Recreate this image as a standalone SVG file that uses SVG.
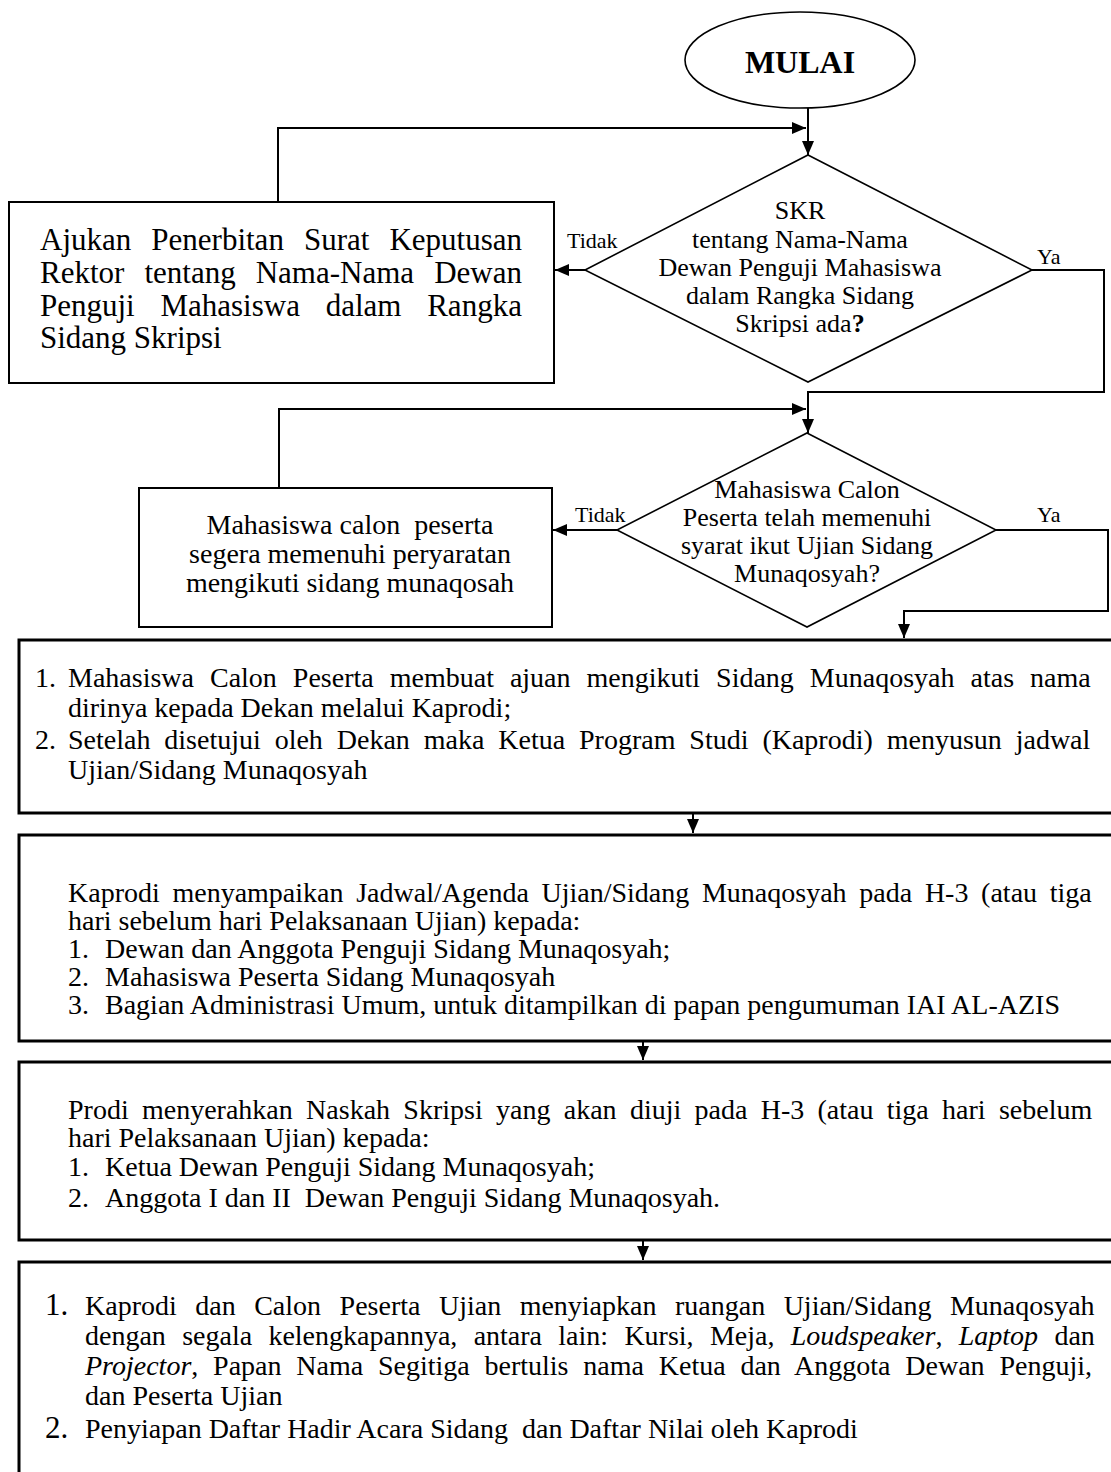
<svg xmlns="http://www.w3.org/2000/svg" width="1111" height="1472" viewBox="0 0 1111 1472" xml:space="preserve">
<style>
.t{font-family:"Liberation Serif","Times New Roman",serif;fill:#000;white-space:pre}
.f31{font-size:31px}
.f28{font-size:28px}
.f26{font-size:26px}
.f22{font-size:22px}
.c{text-anchor:middle}
.box{fill:#fff;stroke:#000;stroke-width:2}
.big{fill:#fff;stroke:#000;stroke-width:3}
.shape{fill:#fff;stroke:#000;stroke-width:1.6}
.conn{fill:none;stroke:#000;stroke-width:2}
</style>
<defs>
<marker id="ah" markerWidth="14" markerHeight="12" refX="14" refY="6" orient="auto" markerUnits="userSpaceOnUse"><path d="M0,0 L14,6 L0,12 z" fill="#000"/></marker>
</defs>
<rect width="1111" height="1472" fill="#fff"/>

<g id="mulai">
<ellipse class="shape" cx="800" cy="60" rx="115" ry="48"/>
<text class="t c" x="800" y="73" font-size="32" font-weight="bold">MULAI</text>
</g>

<g id="dec1">
<polygon class="shape" points="808,155 1032,270 808,382 585,270"/>
<text class="t f26 c" x="800" y="219">SKR</text>
<text class="t f26 c" x="800" y="248">tentang Nama-Nama</text>
<text class="t f26 c" x="800" y="276">Dewan Penguji Mahasiswa</text>
<text class="t f26 c" x="800" y="304">dalam Rangka Sidang</text>
<text class="t f26 c" x="800" y="332">Skripsi ada<tspan font-weight="bold">?</tspan></text>
</g>

<g id="ajukan">
<rect class="box" x="9" y="202" width="545" height="181"/>
<text class="t f31" x="40" y="250" style="word-spacing:12.3px">Ajukan Penerbitan Surat Keputusan</text>
<text class="t f31" x="40" y="283" style="word-spacing:12.3px">Rektor tentang Nama-Nama Dewan</text>
<text class="t f31" x="40" y="316" style="word-spacing:18px">Penguji Mahasiswa dalam Rangka</text>
<text class="t f31" x="40" y="348">Sidang Skripsi</text>
</g>

<g id="dec2">
<polygon class="shape" points="807,433 996,530 807,627 617,530"/>
<text class="t f26 c" x="807" y="498">Mahasiswa Calon</text>
<text class="t f26 c" x="807" y="526">Peserta telah memenuhi</text>
<text class="t f26 c" x="807" y="554">syarat ikut Ujian Sidang</text>
<text class="t f26 c" x="807" y="582">Munaqosyah?</text>
</g>

<g id="penuhi">
<rect class="box" x="139" y="488" width="413" height="139"/>
<text class="t f28 c" x="350" y="534">Mahasiswa calon  peserta</text>
<text class="t f28 c" x="350" y="563">segera memenuhi peryaratan</text>
<text class="t f28 c" x="350" y="592">mengikuti sidang munaqosah</text>
</g>

<g id="ajuan">
<rect class="big" x="19" y="640" width="1110" height="173"/>
<text class="t f28" x="35" y="687">1.</text>
<text class="t f28" x="68" y="687" style="word-spacing:9px">Mahasiswa Calon Peserta membuat ajuan mengikuti Sidang Munaqosyah atas nama</text>
<text class="t f28" x="68" y="717">dirinya kepada Dekan melalui Kaprodi;</text>
<text class="t f28" x="35" y="749">2.</text>
<text class="t f28" x="68" y="749" style="word-spacing:6.9px">Setelah disetujui oleh Dekan maka Ketua Program Studi (Kaprodi) menyusun jadwal</text>
<text class="t f28" x="68" y="779">Ujian/Sidang Munaqosyah</text>
</g>

<g id="jadwal">
<rect class="big" x="19" y="835" width="1110" height="206"/>
<text class="t f28" x="68" y="902" style="word-spacing:5.7px">Kaprodi menyampaikan Jadwal/Agenda Ujian/Sidang Munaqosyah pada H-3 (atau tiga</text>
<text class="t f28" x="68" y="930">hari sebelum hari Pelaksanaan Ujian) kepada:</text>
<text class="t f28" x="68" y="958">1.</text>
<text class="t f28" x="105" y="958">Dewan dan Anggota Penguji Sidang Munaqosyah;</text>
<text class="t f28" x="68" y="986">2.</text>
<text class="t f28" x="105" y="986">Mahasiswa Peserta Sidang Munaqosyah</text>
<text class="t f28" x="68" y="1014">3.</text>
<text class="t f28" x="105" y="1014">Bagian Administrasi Umum, untuk ditampilkan di papan pengumuman IAI AL-AZIS</text>
</g>

<g id="naskah">
<rect class="big" x="19" y="1062" width="1110" height="178"/>
<text class="t f28" x="68" y="1119" style="word-spacing:6.3px">Prodi menyerahkan Naskah Skripsi yang akan diuji pada H-3 (atau tiga hari sebelum</text>
<text class="t f28" x="68" y="1147">hari Pelaksanaan Ujian) kepada:</text>
<text class="t f28" x="68" y="1176">1.</text>
<text class="t f28" x="105" y="1176">Ketua Dewan Penguji Sidang Munaqosyah;</text>
<text class="t f28" x="68" y="1207">2.</text>
<text class="t f28" x="105" y="1207">Anggota I dan II  Dewan Penguji Sidang Munaqosyah.</text>
</g>

<g id="ruangan">
<rect class="big" x="19" y="1262" width="1110" height="240"/>
<text class="t" x="45" y="1315" font-size="31">1.</text>
<text class="t f28" x="85" y="1315" style="word-spacing:11.5px">Kaprodi dan Calon Peserta Ujian menyiapkan ruangan Ujian/Sidang Munaqosyah</text>
<text class="t f28" x="85" y="1345" style="word-spacing:9.3px">dengan segala kelengkapannya, antara lain: Kursi, Meja, <tspan font-style="italic">Loudspeaker</tspan>, <tspan font-style="italic">Laptop</tspan> dan</text>
<text class="t f28" x="85" y="1375" style="word-spacing:7.8px"><tspan font-style="italic">Projector</tspan>, Papan Nama Segitiga bertulis nama Ketua dan Anggota Dewan Penguji,</text>
<text class="t f28" x="85" y="1405">dan Peserta Ujian</text>
<text class="t" x="45" y="1438" font-size="31">2.</text>
<text class="t f28" x="85" y="1438">Penyiapan Daftar Hadir Acara Sidang  dan Daftar Nilai oleh Kaprodi</text>
</g>

<g id="connectors">
<path class="conn" d="M808,108 V155" marker-end="url(#ah)"/>
<path class="conn" d="M278,202 V128 H806" marker-end="url(#ah)"/>
<path class="conn" d="M585,270 H555" marker-end="url(#ah)"/>
<path class="conn" d="M1032,270 H1104 V392 H808 V433" marker-end="url(#ah)"/>
<path class="conn" d="M279,488 V409 H806" marker-end="url(#ah)"/>
<path class="conn" d="M617,530 H553" marker-end="url(#ah)"/>
<path class="conn" d="M996,530 H1108 V611 H904 V638" marker-end="url(#ah)"/>
<path class="conn" d="M693,813 V833" marker-end="url(#ah)"/>
<path class="conn" d="M643,1041 V1060" marker-end="url(#ah)"/>
<path class="conn" d="M643,1240 V1260" marker-end="url(#ah)"/>
<text class="t f22" x="567" y="248">Tidak</text>
<text class="t f22" x="1037" y="264">Ya</text>
<text class="t f22" x="575" y="522">Tidak</text>
<text class="t f22" x="1037" y="522">Ya</text>
</g>
</svg>
